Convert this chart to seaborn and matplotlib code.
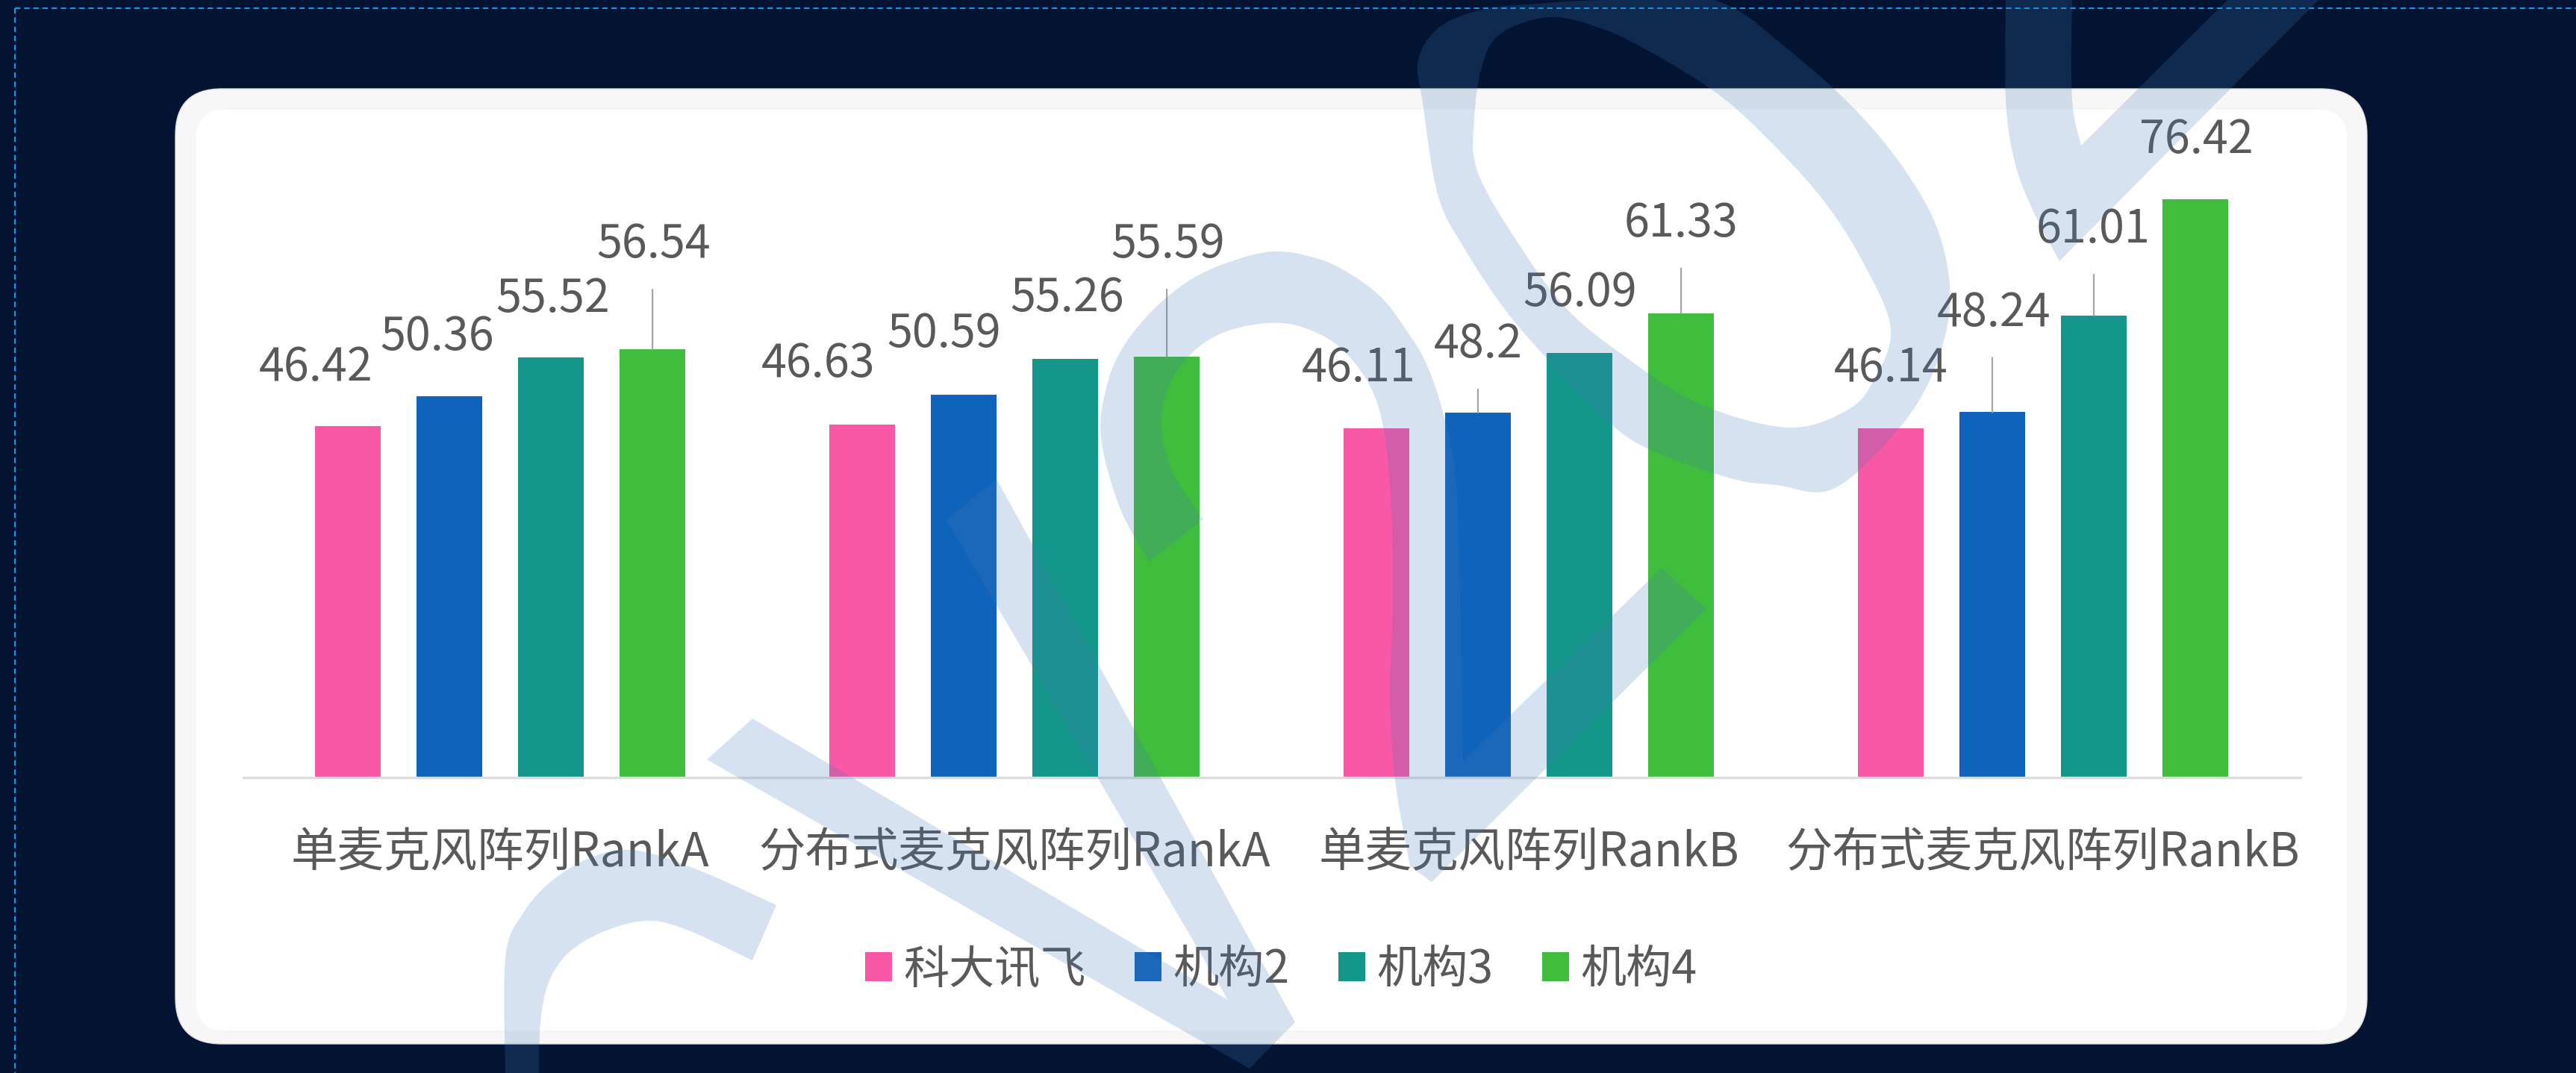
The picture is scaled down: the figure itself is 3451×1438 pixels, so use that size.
import numpy as np
import pandas as pd
import matplotlib
matplotlib.use('Agg')
import matplotlib.pyplot as plt
import seaborn as sns
from matplotlib.patches import FancyBboxPatch, PathPatch
from matplotlib.path import Path

# chart data
categories = ['单麦克风阵列RankA', '分布式麦克风阵列RankA', '单麦克风阵列RankB', '分布式麦克风阵列RankB']
orgs = ['科大讯飞', '机构2', '机构3', '机构4']
iflytek = [46.42, 46.63, 46.11, 46.14]
org2 = [50.36, 50.59, 48.2, 48.24]
org3 = [55.52, 55.26, 56.09, 61.01]
org4 = [56.54, 55.59, 61.33, 76.42]

colors = ['#F858A6', '#1063BA', '#14968A', '#40BD3D']
text_gray = '#595959'
navy = '#021432'

# label placement (pixels): shift from bar centre, height above bar top
label_dx = [[-43, -59, -24, 0], [-16, -26, 0, 2], [3, 3, 1, -1], [2, 2, 0, 1]]
label_dy = [[78, 81, 80, 80], [79, 81, 91, 133], [78, 81, 80, 115], [140, 150, 120, 79]]

W, H = 3451, 1438

sns.set_theme(style='white')
plt.rcParams['font.family'] = ['Noto Sans CJK SC', 'DejaVu Sans']


def smooth(pts, n=10, closed=False):
    """Catmull-Rom through points (for the watermark outline)"""
    p = np.array(pts, float)
    if closed:
        p = np.vstack([p[-1], p, p[0], p[1]])
    else:
        p = np.vstack([p[0], p, p[-1]])
    out = []
    for i in range(1, len(p) - 2):
        p0, p1, p2, p3 = p[i - 1], p[i], p[i + 1], p[i + 2]
        for t in np.linspace(0, 1, n, endpoint=False):
            out.append(0.5 * (2 * p1 + (-p0 + p2) * t
                              + (2 * p0 - 5 * p1 + 4 * p2 - p3) * t * t
                              + (-p0 + 3 * p1 - 3 * p2 + p3) * t ** 3))
    if not closed:
        out.append(p[-2])
    return np.array(out)


def signed_area(v):
    x, y = v[:, 0], v[:, 1]
    return 0.5 * np.sum(x * np.roll(y, -1) - np.roll(x, -1) * y)


def orient(v, positive=True):
    v = np.asarray(v, float)
    if (signed_area(v) > 0) != positive:
        v = v[::-1]
    return v


def watermark_path():
    polys = []
    hump = np.vstack([
        smooth([(677, 1445), (677, 1284), (700, 1225), (740, 1180), (797, 1147),
                (855, 1140), (938, 1167), (1040, 1213)]),
        smooth([(1008, 1287), (912, 1243), (855, 1235), (785, 1260), (743, 1300),
                (725, 1360), (722, 1445)]),
    ])
    polys.append(orient(hump))
    vee = [(947, 1018), (1674, 1432), (1735, 1370), (1335, 642), (1268, 697),
           (1645, 1340), (1008, 963)]
    polys.append(orient(vee))
    arc = np.vstack([
        smooth([(1539, 753), (1500, 680), (1475, 587), (1482, 520), (1504, 466),
                (1545, 415), (1595, 375), (1650, 350), (1707, 337), (1760, 345),
                (1802, 363), (1850, 398), (1885, 444), (1912, 490), (1935, 560),
                (1950, 640), (1955, 760), (1958, 900), (1960, 1020)]),
        [(2226, 761), (2286, 816), (1918, 1182)],
        smooth([(1889, 1161), (1869, 1046), (1862, 931), (1866, 800), (1862, 650),
                (1845, 540), (1800, 470), (1740, 437), (1680, 435), (1620, 455),
                (1575, 500), (1556, 560), (1570, 630), (1612, 696)]),
    ])
    polys.append(orient(arc))
    outer = smooth([(1906, 138), (1900, 80), (1930, 35), (1990, 12), (2058, 5),
                    (2150, 0), (2296, 0), (2400, 70), (2494, 156), (2560, 240),
                    (2600, 320), (2612, 413), (2585, 510), (2533, 587), (2454, 656),
                    (2380, 650), (2315, 640), (2197, 596), (2130, 540), (2028, 430),
                    (1960, 330), (1926, 260)], closed=True)
    inner = smooth([(1979, 229), (1975, 160), (1985, 90), (2010, 45), (2078, 23),
                    (2150, 40), (2217, 73), (2300, 125), (2365, 183), (2440, 265),
                    (2494, 348), (2533, 440), (2510, 510), (2474, 550), (2395, 573),
                    (2276, 541), (2180, 480), (2098, 413), (2030, 320)], closed=True)
    polys.append(orient(outer, True))
    polys.append(orient(inner, False))
    top_v = np.vstack([
        smooth([(2687, -5), (2687, 133), (2699, 217), (2724, 283), (2759, 350)]),
        [(3111, -5), (2989, -5)],
        smooth([(2788, 195), (2776, 133), (2776, -5)]),
    ])
    polys.append(orient(top_v))

    verts, codes = [], []
    for p in polys:
        verts.extend(p.tolist())
        verts.append(p[0].tolist())
        codes.extend([Path.MOVETO] + [Path.LINETO] * (len(p) - 1) + [Path.CLOSEPOLY])
    return Path(verts, codes)


df = pd.DataFrame({
    'category': np.tile(categories, len(orgs)),
    'org': np.repeat(orgs, len(categories)),
    'score': iflytek + org2 + org3 + org4,
})

fig = plt.figure(figsize=(W / 100, H / 100), dpi=100)
fig.patch.set_facecolor(navy)

# background: dotted frame and the rounded white card
bg = fig.add_axes([0, 0, 1, 1], zorder=0)
bg.set_xlim(0, W)
bg.set_ylim(H, 0)
bg.axis('off')
bg.plot([20, W + 10], [11, 11], color='#0A9BEA', lw=1.5, ls=(0, (3.5, 2.4)))
bg.plot([20, 20], [11, H + 10], color='#0A9BEA', lw=1.5, ls=(0, (3.5, 2.4)))
bg.add_patch(FancyBboxPatch((235, 119), 2936, 1280, boxstyle='round,pad=0,rounding_size=62',
                            fc='#F7F7F7', ec='#DCDCDC', lw=1))
bg.add_patch(FancyBboxPatch((263, 147), 2881, 1234, boxstyle='round,pad=0,rounding_size=38',
                            fc='white', ec='none'))

# main bar chart
ax = fig.add_axes([325.5 / W, (H - 1042) / H, 2756 / W, 893 / H], zorder=1)
ax.patch.set_alpha(0)
sns.barplot(data=df, x='category', y='score', hue='org', palette=colors,
            width=0.79, gap=0.353, linewidth=0, saturation=1, ax=ax)
ax.set_xlim(-0.5, 3.5)
ax.set_ylim(0, 88)
ax.set_xlabel('')
ax.set_ylabel('')
ax.set_yticks([])
for side in ['top', 'right', 'left']:
    ax.spines[side].set_visible(False)
ax.spines['bottom'].set_color('#DDDDDD')
ax.spines['bottom'].set_linewidth(2.4)
ax.set_xticks(range(len(categories)))
ax.set_xticklabels(categories, va='center', fontsize=45, color=text_gray)
ax.tick_params(axis='x', length=0, pad=73)

# value labels, some with leader lines
for i, cont in enumerate(ax.containers):
    for j, bar in enumerate(cont):
        x = bar.get_x() + bar.get_width() / 2
        top = bar.get_height()
        dx, dy = label_dx[i][j], label_dy[i][j]
        ax.annotate(f'{top:g}', xy=(x, top), xytext=(dx, dy), textcoords='offset pixels',
                    ha='center', va='center', fontsize=44, color=text_gray)
        if dy > 88:
            ax.annotate('', xy=(x, top), xytext=(0, dy - 60), textcoords='offset pixels',
                        arrowprops=dict(arrowstyle='-', color='#A6A6A6', lw=1.6,
                                        shrinkA=0, shrinkB=0))

handles, labels = ax.get_legend_handles_labels()
ax.legend(handles, labels, loc='center', bbox_to_anchor=(1716 / W, 1 - 1300 / H),
          bbox_transform=fig.transFigure, ncol=4, frameon=False, fontsize=44,
          handlelength=0.59, handleheight=0.59, handletextpad=0.25,
          columnspacing=1.07, borderpad=0, labelcolor=text_gray)

# translucent watermark on top of everything
wm = fig.add_axes([0, 0, 1, 1], zorder=5)
wm.set_xlim(0, W)
wm.set_ylim(H, 0)
wm.axis('off')
wm.patch.set_alpha(0)
wm.add_patch(PathPatch(watermark_path(), fc='#4678B9', ec='none', alpha=0.21))

fig.savefig('out.png', dpi=100, facecolor=fig.get_facecolor())
